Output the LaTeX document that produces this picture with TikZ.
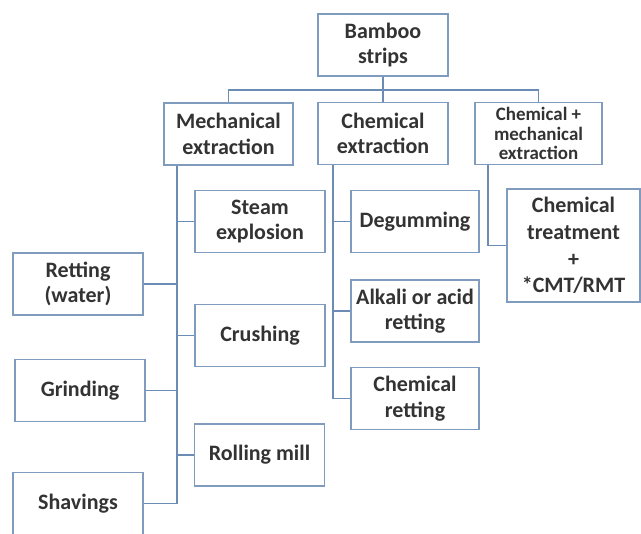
\documentclass[tikz,border=0pt]{standalone}
\usepackage{fontspec}
\setmainfont{Carlito}
\usepackage{xcolor}
\definecolor{boxline}{HTML}{7F9BBD}
\definecolor{linkline}{HTML}{6B8DB5}
\definecolor{txtgray}{HTML}{333333}

\begin{document}
\begin{tikzpicture}[x=0.75pt, y=-0.75pt, font=\fontsize{16.5}{19}\selectfont\bfseries,
  box/.style={draw=boxline, line width=1.1pt, fill=white, text=txtgray, align=center,
    minimum width=97.5pt, minimum height=46.5pt, inner sep=0pt},
  link/.style={draw=linkline, line width=1.1pt}]
  \useasboundingbox (0,0) rectangle (641,533);
  \clip (0,0) rectangle (641,533);

  % Top level: source and the three routes
  \node[box] (bamboo) at (383,45) {Bamboo\\strips};
  \node[box, minimum width=96.75pt] (mech) at (228.5,134) {Mechanical\\extraction};
  \node[box] (chem) at (383,133.5) {Chemical\\extraction};
  \node[box, minimum width=95.25pt, font=\fontsize{14.2}{14.5}\selectfont\bfseries] (chemmech) at (538.5,133.5) {Chemical +\\mechanical\\extraction};

  % Mechanical route
  \node[box] (steam) at (260,221.5) {Steam\\explosion};
  \node[box] (crush) at (260,335.5) {Crushing};
  \node[box] (rolling) at (259.5,455) {Rolling mill};
  \node[box] (retting) at (78,284) {Retting\\(water)};
  \node[box] (grinding) at (80,390.5) {Grinding};
  \node[box] (shavings) at (78,503.5) {Shavings};

  % Chemical route
  \node[box, minimum width=96pt] (degum) at (415,221.5) {Degumming};
  \node[box, minimum width=96pt] (alkali) at (415,311) {Alkali or acid\\retting};
  \node[box, minimum width=96pt] (chemret) at (415,398.5) {Chemical\\retting};

  % Combined route
  \node[box, minimum width=99.75pt, minimum height=84.75pt, font=\fontsize{16.5}{20}\selectfont\bfseries] (treat) at (573.5,245.5) {Chemical\\treatment\\+\\*CMT/RMT};

  % Connectors
  \coordinate (bus) at (383,90);
  \coordinate (mtrunk) at (177,0);
  \coordinate (ctrunk) at (333,0);
  \coordinate (cmtrunk) at (488,0);
  \draw[link] (bamboo) -- (chem);
  \draw[link] (mech.north) |- (bus) -| (chemmech.north);

  \draw[link] (mech.south -| mtrunk) |- (shavings.east);
  \draw[link] (steam.west) -- (steam.west -| mtrunk);
  \draw[link] (crush.west) -- (crush.west -| mtrunk);
  \draw[link] (rolling.west) -- (rolling.west -| mtrunk);
  \draw[link] (retting.east) -- (retting.east -| mtrunk);
  \draw[link] (grinding.east) -- (grinding.east -| mtrunk);

  \draw[link] (chem.south -| ctrunk) |- (chemret.west);
  \draw[link] (degum.west) -- (degum.west -| ctrunk);
  \draw[link] (alkali.west) -- (alkali.west -| ctrunk);

  \draw[link] (chemmech.south -| cmtrunk) |- (treat.west);
\end{tikzpicture}
\end{document}
